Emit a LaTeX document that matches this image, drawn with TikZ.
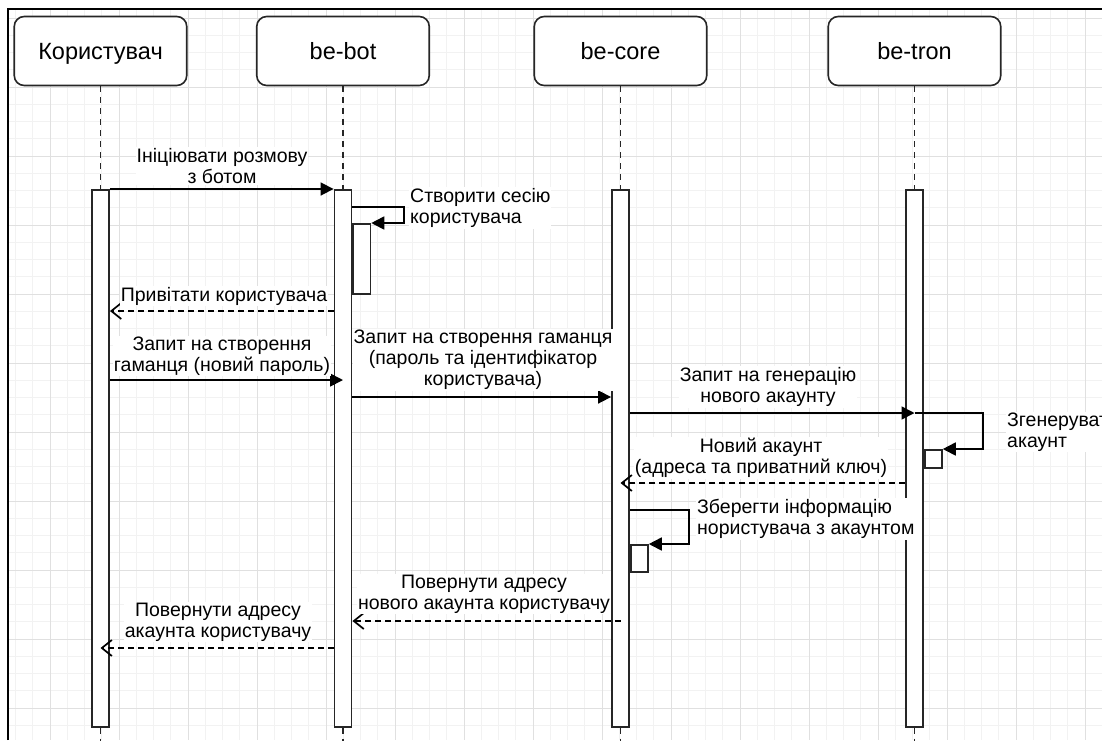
\documentclass[tikz,border=0pt]{standalone}
\usepackage{fontspec}
\setmainfont{Liberation Sans}
\usetikzlibrary{arrows.meta, positioning}

\tikzset{
  gridminor/.style={draw=black!5, line width=0.8pt},
  gridmajor/.style={draw=black!12, line width=1pt},
  actor/.style={draw=black!85, line width=1.6pt, rounded corners=10pt, fill=white,
    minimum width=172.5pt, minimum height=69pt, inner sep=0pt,
    text height=17pt, text depth=0pt,
    font=\fontsize{23.5}{27}\selectfont},
  lifeline/.style={draw=black!85, line width=1.6pt, dash pattern=on 6pt off 5pt},
  activation/.style={draw=black!85, line width=1.6pt, fill=white,
    minimum width=17.25pt, inner sep=0pt},
  syncmsg/.style={line width=1.7pt, -{Triangle[length=13pt,width=13pt]}},
  retmsg/.style={line width=1.7pt, dash pattern=on 6pt off 4pt,
    -{Straight Barb[length=10pt,width=16pt]}},
  msglabel/.style={font=\fontsize{19.5}{21}\selectfont, align=center,
    inner sep=1pt, fill=white},
}

\begin{document}
\begin{tikzpicture}[x=1pt, y=-1pt, >=stealth]
  \useasboundingbox (0,0) rectangle (1102,740);
  % background grid
  \foreach \i in {0,...,63} {
    \draw[gridminor] ({15.5+17.25*\i}, 9) -- ({15.5+17.25*\i}, 740);
  }
  \foreach \i in {0,...,41} {
    \draw[gridminor] (8, {18+17.25*\i}) -- (1102, {18+17.25*\i});
  }
  \foreach \i in {0,...,15} {
    \draw[gridmajor] ({50+69*\i}, 9) -- ({50+69*\i}, 740);
  }
  \foreach \i in {0,...,10} {
    \draw[gridmajor] (8, {18+69*\i}) -- (1102, {18+69*\i});
  }
  \draw[line width=2.3pt] (8,740) -- (8,9) -- (1102,9);

  % participants
  \node[actor] (user) at (100.5, 51) {Користувач};
  \node[actor] (bot) at (343, 51) {be-bot};
  \node[actor] (core) at (620.5, 51) {be-core};
  \node[actor] (tron) at (914.5, 51) {be-tron};

  % activations
  \foreach \p/\n in {user/actU, bot/actB, core/actC, tron/actT} {
    \node[activation, minimum height=537pt, anchor=north] (\n) at (\p.south |- 0,189) {};
    \draw[lifeline] (\p.south) -- (\n.north);
    \draw[lifeline] (\n.south) -- ++(0,16);
  }
  \node[activation, minimum height=70pt, anchor=north west] (actB2) at (actB.east |- 0,223) {};
  \node[activation, minimum height=18pt, anchor=north west] (actT2) at (actT.east |- 0,449) {};
  \node[activation, minimum height=27pt, anchor=north west] (actC2) at (actC.east |- 0,544) {};

  % messages
  \draw[syncmsg] (actU.north east) -- (actB.north west);
  \draw[syncmsg] (actB.east |- 0,207) -| (404,223) -- (actB2.north east);
  \draw[retmsg] (actB.west |- 0,311) -- (actU.east |- 0,311);
  \draw[syncmsg] (actU.east |- 0,380) -- (actB |- 0,380);
  \draw[syncmsg] (actB.east |- 0,397) -- (actC.west |- 0,397);
  \draw[syncmsg] (actC.east |- 0,413) -- (actT |- 0,413);
  \draw[syncmsg] (actT |- 0,413) -| (983,449) -- (actT2.north east);
  \draw[retmsg] (actT.west |- 0,483) -- (actC |- 0,483);
  \draw[syncmsg] (actC.east |- 0,510) -| (689,544) -- (actC2.north east);
  \draw[retmsg] (actC |- 0,621) -- (actB.east |- 0,621);
  \draw[retmsg] (actB.west |- 0,648) -- (actU |- 0,648);

  % labels
  \node[msglabel] (l1) at (222, 166) {Ініціювати розмову\\з ботом};
  \node[msglabel, anchor=west, align=left] (l2) at (409, 208) {Створити сесію\\користувача};
  \node[msglabel] (l3) at (224, 296) {Привітати користувача};
  \node[msglabel] (l4) at (222, 356) {Запит на створення\\гаманця (новий пароль)};
  \node[msglabel] (l5) at (483, 360) {Запит на створення гаманця\\(пароль та ідентифікатор\\користувача)};
  \node[msglabel] (l6) at (768, 387) {Запит на генерацію\\нового акаунту};
  \node[msglabel, anchor=west, align=left] (l7) at (1006, 432) {Згенерувати\\акаунт};
  \node[msglabel] (l8) at (761, 458) {Новий акаунт\\(адреса та приватний ключ)};
  \node[msglabel, anchor=west, align=left] (l9) at (696, 519) {Зберегти інформацію\\нористувача з акаунтом};
  \node[msglabel] (l10) at (484, 594) {Повернути адресу\\нового акаунта користувачу};
  \node[msglabel] (l11) at (218, 622) {Повернути адресу\\акаунта користувачу};
\end{tikzpicture}
\end{document}
